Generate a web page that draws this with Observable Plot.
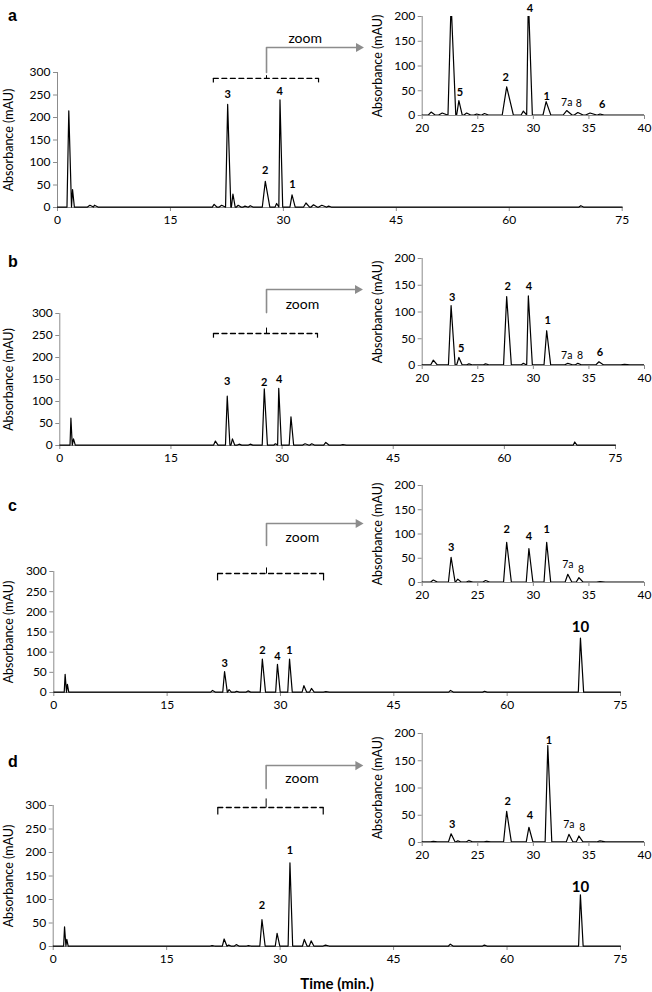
<!DOCTYPE html>
<html><head><meta charset="utf-8">
<script src="https://cdn.jsdelivr.net/npm/d3@7"></script>
<script src="https://cdn.jsdelivr.net/npm/@observablehq/plot@0.6"></script>
<style>
body{margin:0;background:#fff;}
#fig{position:relative;width:652px;height:992px;overflow:hidden;background:#fff;}
.letter{position:absolute;font:bold 16px "Liberation Sans",Arial,sans-serif;line-height:16px;}
.xtitle{position:absolute;font:bold 15px Lato,"Open Sans",sans-serif;line-height:16px;width:200px;text-align:center;}
</style></head><body><div id="fig"></div><script>
// ---- data: peaks [time (min), absorbance (mAU), half-width (min)] ----
const peaksA = [[1.5,215,0.3],[2.0,40,0.2],[4.3,5,0.4],[4.9,5,0.4],[20.8,7,0.3],[21.8,5,0.4],[22.6,229,0.35],[23.3,30,0.25],[24.0,5,0.3],[24.9,3,0.3],[25.6,4,0.3],[27.6,58,0.5],[29.1,9,0.25],[29.55,239,0.3],[31.15,28,0.35],[33.0,10,0.4],[34.0,6,0.4],[35.1,5,0.5],[36.0,3,0.3],[69.5,4,0.3]];
const peaksB = [[1.5,62,0.15],[1.85,15,0.2],[21.0,10,0.3],[22.6,112,0.3],[23.3,15,0.25],[24.2,3,0.3],[25.7,3,0.3],[27.6,129,0.35],[29.1,4,0.25],[29.55,130,0.3],[31.2,65,0.3],[33.1,4,0.4],[34.0,4,0.3],[35.9,7,0.35],[38.2,2,0.4],[69.5,8,0.25]];
const peaksC = [[1.5,45,0.15],[1.8,20,0.15],[21.0,5,0.3],[22.6,52,0.3],[23.2,7,0.25],[24.2,3,0.3],[25.7,4,0.3],[27.6,83,0.35],[29.6,70,0.3],[31.2,83,0.3],[33.1,17,0.3],[34.1,10,0.3],[36.0,2,0.4],[52.5,5,0.3],[57.0,3,0.3],[69.7,135,0.35]];
const peaksD = [[1.5,42,0.15],[1.8,15,0.15],[21.0,2,0.3],[22.6,16,0.3],[23.2,3,0.25],[24.2,4,0.3],[25.8,2,0.3],[27.6,57,0.35],[29.6,28,0.3],[31.3,178,0.3],[33.2,15,0.3],[34.1,12,0.3],[36.0,3,0.4],[52.5,5,0.3],[57.0,3,0.3],[69.7,110,0.3]];

// ---- peak labels [text, time, y] ----
const mainLabelsA = [["3",22.6,251],["4",29.5,258],["2",27.6,82],["1",31.2,51]];
const insetLabelsA = [["5",23.4,46],["2",27.5,77],["4",29.7,216],["1",31.2,38],["7a",33.0,26],["8",34.1,24],["6",36.2,22]];
const mainLabelsB = [["3",22.6,146],["2",27.6,144],["4",29.6,149]];
const insetLabelsB = [["3",22.7,128],["5",23.5,31],["2",27.7,148],["4",29.6,148],["1",31.3,85],["7a",33.0,19],["8",34.2,19],["6",36.0,25]];
const mainLabelsC = [["3",22.6,72],["2",27.6,103],["4",29.6,90],["1",31.2,103],["10",69.7,163]];
const insetLabelsC = [["3",22.6,73],["2",27.6,110],["4",29.6,95],["1",31.2,110],["7a",33.1,37],["8",34.3,27]];
const mainLabelsD = [["2",27.6,87],["1",31.3,204],["10",69.7,127]];
const insetLabelsD = [["3",22.7,34],["2",27.7,76],["4",29.7,50],["1",31.4,188],["7a",33.2,33],["8",34.4,27]];

// ---- ticks ----
const xTicksMain = [0,15,30,45,60,75];
const yTicksMain = [0,50,100,150,200,250,300];
const xTicksInset = [20,25,30,35,40];
const yTicksInset = [0,50,100,150,200];
const panelLetters = ["a","b","c","d"];

const fig = document.getElementById("fig");
const AXIS = "#8c8c8c";
const FONT = "Lato, 'Open Sans', sans-serif";
const normalLabels = new Set(["7a","8"]);

function trace(peaks, base = 1) {
  const pts = [{t: 0, v: base}];
  let prev = 0;
  for (const [t, h, w] of peaks.slice().sort((a, b) => a[0] - b[0])) {
    const l = Math.max(t - w * 0.8, prev);
    pts.push({t: l, v: base}, {t, v: h});
    prev = t + w * 1.2;
    pts.push({t: prev, v: base});
  }
  pts.push({t: 75, v: base});
  return pts;
}

function place(svg, top) {
  svg.style.position = "absolute";
  svg.style.left = "0px";
  svg.style.top = top + "px";
  fig.appendChild(svg);
}

function baseStyle() {
  return {background: "transparent", overflow: "visible", fontFamily: FONT, fontSize: "12px", color: "black"};
}

function mainPlot(c) {
  const mt = 72, mb = 40;
  const big = c.labels.filter(d => d[0] === "10");
  const small = c.labels.filter(d => d[0] !== "10");
  const a = c.ann;
  const svg = Plot.plot({
    width: 652, height: (c.bottom - c.top) + mt + mb,
    marginTop: mt, marginBottom: mb, marginLeft: c.left, marginRight: 652 - c.right,
    x: {domain: [0, 75]}, y: {domain: [0, 300]},
    style: baseStyle(),
    marks: [
      Plot.ruleY([0], {stroke: AXIS}),
      Plot.ruleX([0], {stroke: AXIS}),
      Plot.axisX({ticks: xTicksMain, tickSize: 4, tickPadding: 4, stroke: AXIS, fill: "black", label: null, fontSize: 12}),
      Plot.axisY({ticks: yTicksMain, tickSize: 4, tickPadding: 3, stroke: AXIS, fill: "black", label: null, fontSize: 12}),
      Plot.text(["Absorbance (mAU)"], {frameAnchor: "left", textAnchor: "middle", rotate: -90, dx: -(c.left - 8), fontSize: 12.5}),
      Plot.line(trace(c.peaks), {x: "t", y: "v", stroke: "black", strokeWidth: 1.2}),
      Plot.text(small, {x: d => d[1], y: d => d[2], text: d => d[0], fontWeight: "bold", fontSize: 11}),
      Plot.text(big, {x: d => d[1], y: d => d[2], text: d => d[0], fontWeight: "bold", fontSize: 15}),
      // zoom bracket
      Plot.line([[a.bx0, a.by], [a.bx1, a.by]], {stroke: "black", strokeWidth: 1.3, strokeDasharray: "5,3.5"}),
      Plot.link([[a.bx0, a.by], [a.bx1, a.by]], {x1: d => d[0], x2: d => d[0], y1: d => d[1], y2: a.byEnd, stroke: "black", strokeWidth: 1.2}),
      Plot.link([a], {x1: "cx", x2: "cx", y1: d => d.notch[0], y2: d => d.notch[1], stroke: "black", strokeWidth: 1}),
      Plot.line([[a.cx, a.cy0], [a.cx, a.cy1], [a.ax, a.cy1]], {stroke: AXIS, strokeWidth: 1.6}),
      Plot.dot([a], {x: "ax", y: "cy1", symbol: "triangle", rotate: 90, r: 3.4, fill: AXIS, stroke: null}),
      Plot.text([a], {x: "zx", y: "zy", text: () => "zoom", fontSize: 14})
    ]
  });
  place(svg, c.top - mt);
}

function insetPlot(c) {
  const mt = 22, mb = 30, left = 421.7, right = 644;
  const svg = Plot.plot({
    width: 652, height: (c.bottom - c.top) + mt + mb,
    marginTop: mt, marginBottom: mb, marginLeft: left, marginRight: 652 - right,
    x: {domain: [20, 40]}, y: {domain: [0, 200]},
    style: baseStyle(),
    marks: [
      Plot.ruleY([0], {stroke: AXIS}),
      Plot.ruleX([20], {stroke: AXIS}),
      Plot.axisX({ticks: xTicksInset, tickSize: 4, tickPadding: 4, stroke: AXIS, fill: "black", label: null, fontSize: 12}),
      Plot.axisY({ticks: yTicksInset, tickSize: 4, tickPadding: 3, stroke: AXIS, fill: "black", label: null, fontSize: 12}),
      Plot.text(["Absorbance (mAU)"], {frameAnchor: "left", textAnchor: "middle", rotate: -90, dx: -(left - 377), fontSize: 12.5}),
      Plot.line(trace(c.peaks), {x: "t", y: "v", stroke: "black", strokeWidth: 1.2, clip: true}),
      Plot.text(c.labels.filter(d => !normalLabels.has(d[0])), {x: d => d[1], y: d => d[2], text: d => d[0], fontWeight: "bold", fontSize: 11}),
      Plot.text(c.labels.filter(d => normalLabels.has(d[0])), {x: d => d[1], y: d => d[2], text: d => d[0], fontSize: 10.5})
    ]
  });
  place(svg, c.top - mt);
}

const mains = [
  {peaks: peaksA, labels: mainLabelsA, top: 72, bottom: 207, left: 57, right: 621.7,
   ann: {bx0: 20.7, bx1: 34.67, by: 287, byEnd: 278, cx: 27.76, notch: [287, 294], cy0: 300, cy1: 355.6, ax: 40.0, zx: 32.9, zy: 375}},
  {peaks: peaksB, labels: mainLabelsB, top: 313, bottom: 445, left: 59.3, right: 615,
   ann: {bx0: 20.74, bx1: 34.78, by: 254.5, byEnd: 245, cx: 27.9, notch: [254.5, 268], cy0: 302, cy1: 354.5, ax: 40.2, zx: 32.75, zy: 320.5}},
  {peaks: peaksC, labels: mainLabelsC, top: 571, bottom: 692, left: 53.3, right: 620,
   ann: {bx0: 21.67, bx1: 35.7, by: 295, byEnd: 278, cx: 28.15, notch: [295, 310], cy0: 364.5, cy1: 419, ax: 40.3, zx: 32.9, zy: 384}},
  {peaks: peaksD, labels: mainLabelsD, top: 805, bottom: 946, left: 52.7, right: 620,
   ann: {bx0: 21.76, bx1: 35.7, by: 295.7, byEnd: 281, cx: 28.15, notch: [295.7, 315], cy0: 336, cy1: 385, ax: 40.3, zx: 32.9, zy: 357}}
];
const insets = [
  {peaks: peaksA, labels: insetLabelsA, top: 16, bottom: 115},
  {peaks: peaksB, labels: insetLabelsB, top: 258, bottom: 365},
  {peaks: peaksC, labels: insetLabelsC, top: 485, bottom: 582},
  {peaks: peaksD, labels: insetLabelsD, top: 733, bottom: 842}
];
mains.forEach(mainPlot);
insets.forEach(insetPlot);

const letterY = [17, 263, 507, 763];
panelLetters.forEach((l, i) => {
  const d = document.createElement("div");
  d.className = "letter";
  d.textContent = l;
  d.style.left = "8px";
  d.style.top = (letterY[i] - 9) + "px";
  fig.appendChild(d);
});
const xt = document.createElement("div");
xt.className = "xtitle";
xt.textContent = "Time (min.)";
xt.style.left = (337 - 100) + "px";
xt.style.top = (984 - 9) + "px";
fig.appendChild(xt);
</script></body></html>
